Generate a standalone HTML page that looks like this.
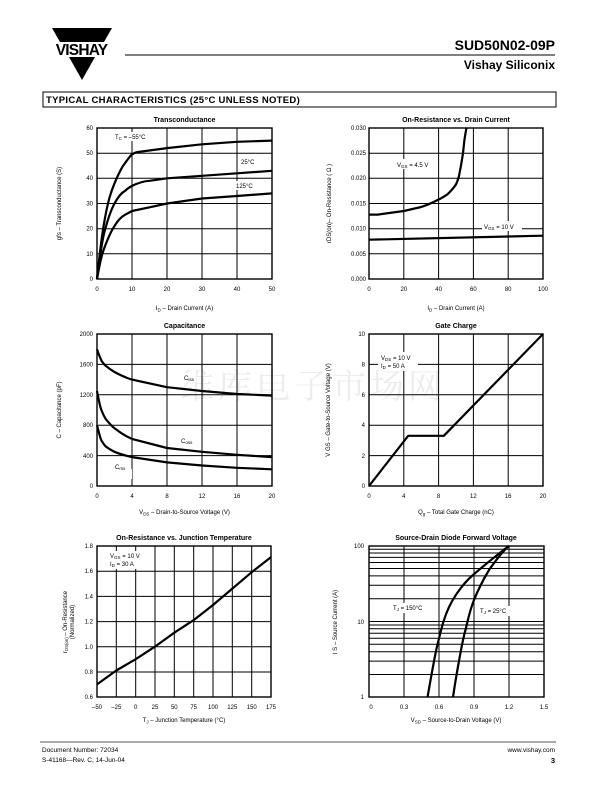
<!DOCTYPE html>
<html><head><meta charset="utf-8"><style>
html,body{margin:0;padding:0;background:#fff}
svg{display:block}
text{font-family:"Liberation Sans",Arial,sans-serif;fill:#000}
.g{stroke:#000;stroke-width:1;fill:none}
.b{stroke:#000;stroke-width:1.4;fill:none}
.c{stroke:#000;stroke-width:2.2;fill:none;stroke-linejoin:round}
.t{font-size:7px;font-weight:bold}
.s{font-size:6px}
.l{font-size:6.5px}
</style></head><body>
<svg width="612" height="792" viewBox="0 0 612 792" xmlns="http://www.w3.org/2000/svg">
<!-- header -->
<polygon points="52,28 112,28 104,42 60,42" fill="#000"/>
<text x="81.5" y="55" text-anchor="middle" style="font-size:15.5px;font-weight:bold;letter-spacing:-0.8px">VISHAY</text>
<polygon points="69,57 95,57 82,80" fill="#000"/>
<line x1="125" y1="55" x2="555" y2="55" stroke="#000" stroke-width="1"/>
<text x="555" y="50" text-anchor="end" style="font-size:14px;font-weight:bold">SUD50N02-09P</text>
<text x="555" y="69" text-anchor="end" style="font-size:12px;font-weight:bold">Vishay Siliconix</text>
<rect x="43" y="92" width="513" height="15" fill="none" stroke="#000" stroke-width="1"/>
<text x="46" y="103" style="font-size:9.5px;font-weight:bold;letter-spacing:0.3px">TYPICAL CHARACTERISTICS (25°C UNLESS NOTED)</text>

<!-- watermark -->
<text x="180" y="398" style="font-family:'Noto Serif CJK SC',serif;font-size:34px;fill:#ececec;letter-spacing:4px">维库电子市场网</text>

<!-- Chart 1 -->
<text x="184.5" y="122" text-anchor="middle" class="t">Transconductance</text>
<g class="g">
<path d="M132,128V279M167,128V279M202,128V279M237,128V279M97,153.2H272M97,178.3H272M97,203.5H272M97,228.7H272M97,253.8H272"/>
</g>
<rect x="97" y="128" width="175" height="151" class="b"/>
<g class="s" text-anchor="end">
<text x="93" y="130">60</text><text x="93" y="155">50</text><text x="93" y="180">40</text><text x="93" y="205.5">30</text><text x="93" y="230.5">20</text><text x="93" y="256">10</text><text x="93" y="281">0</text></g>
<g class="s" text-anchor="middle">
<text x="97" y="291">0</text><text x="132" y="291">10</text><text x="167" y="291">20</text><text x="202" y="291">30</text><text x="237" y="291">40</text><text x="272" y="291">50</text></g>
<text x="184.5" y="310" text-anchor="middle" class="s">I<tspan font-size="4.5" dy="1.5">D</tspan><tspan dy="-1.5">  –  Drain Current (A)</tspan></text>
<text transform="translate(61,203.5) rotate(-90)" text-anchor="middle" class="s">gfs – Transconductance (S)</text>
<path class="c" d="M97,279 C100,250 102,235 104,223.6 C108,200 111,192 114.5,183.4 C118,175 121,168 125,163.2 C128,159 130,156 132,154.4 C135,152.5 137,152 139,151.9 L167,148.1 L202,144.3 L237,141.8 L272,140.6"/>
<path class="c" d="M97,279 C100,255 102,242 104,233.7 C108,218 111,210 114.5,203.5 C118,197 121,193 125,190.9 C128,188 130,187 132,185.9 C140,182 145,181 149.5,180.8 L167,178.3 L202,175.8 L237,173.3 L272,170.8"/>
<path class="c" d="M97,279 C100,262 102,254 104,248.8 C108,238 111,231 114.5,226.1 C118,220 121,217 125,214.8 L132,211 L149.5,207.3 L167,203.5 L184.5,201 L202,198.5 L237,196 L272,193.4"/>
<rect x="113" y="132" width="45" height="9" fill="#fff"/>
<text x="115" y="139" class="s">T<tspan font-size="4.5" dy="1">C</tspan><tspan dy="-1"> = –55°C</tspan></text>
<rect x="238" y="157" width="24" height="9" fill="#fff"/>
<text x="241" y="164" class="s">25°C</text>
<rect x="234" y="181" width="27" height="9" fill="#fff"/>
<text x="236" y="188" class="s">125°C</text>

<!-- Chart 2 -->
<text x="456" y="122" text-anchor="middle" class="t">On-Resistance vs. Drain Current</text>
<g class="g">
<path d="M403.8,128V279M438.6,128V279M473.4,128V279M508.2,128V279M369,153.2H543M369,178.3H543M369,203.5H543M369,228.7H543M369,253.8H543"/>
</g>
<rect x="369" y="128" width="174" height="151" class="b"/>
<g class="s" text-anchor="end">
<text x="366" y="130">0.030</text><text x="366" y="155">0.025</text><text x="366" y="180">0.020</text><text x="366" y="205.5">0.015</text><text x="366" y="230.5">0.010</text><text x="366" y="256">0.005</text><text x="366" y="281">0.000</text></g>
<g class="s" text-anchor="middle">
<text x="369" y="291">0</text><text x="403.8" y="291">20</text><text x="438.6" y="291">40</text><text x="473.4" y="291">60</text><text x="508.2" y="291">80</text><text x="543" y="291">100</text></g>
<text x="456" y="310" text-anchor="middle" class="s">I<tspan font-size="4.5" dy="1.5">D</tspan><tspan dy="-1.5">  –  Drain Current (A)</tspan></text>
<text transform="translate(331,203.5) rotate(-90)" text-anchor="middle" class="s">rDS(on)– On-Resistance ( Ω )</text>
<path class="c" d="M369,214.6 L377.7,214.6 L403.8,211 L421.2,207 C430,204 434,202 438.6,199.5 C442,198 444,196.5 447.3,194.4 C451,191 453,189 456,184.4 C458,180 459,177 459.5,173.3 C461,166 462,160 463,153.2 C463.8,146 464.2,141 464.7,138.1 L466.4,128"/>
<path class="c" d="M369,239.7 L543,235.7"/>
<rect x="394" y="159" width="44" height="10" fill="#fff"/>
<text x="397" y="167" class="s">V<tspan font-size="4.5" dy="1">GS</tspan><tspan dy="-1"> = 4.5 V</tspan></text>
<rect x="482" y="221" width="40" height="10" fill="#fff"/>
<text x="484" y="229" class="s">V<tspan font-size="4.5" dy="1">GS</tspan><tspan dy="-1"> = 10 V</tspan></text>

<!-- Chart 3 Capacitance -->
<text x="184.5" y="328" text-anchor="middle" class="t">Capacitance</text>
<g class="g">
<path d="M132,334V486M167,334V486M202,334V486M237,334V486M97,364.4H272M97,394.8H272M97,425.2H272M97,455.6H272"/>
</g>
<rect x="97" y="334" width="175" height="152" class="b"/>
<g class="s" text-anchor="end">
<text x="93" y="336">2000</text><text x="93" y="366.5">1600</text><text x="93" y="397">1200</text><text x="93" y="427">800</text><text x="93" y="458">400</text><text x="93" y="488">0</text></g>
<g class="s" text-anchor="middle">
<text x="97" y="498">0</text><text x="132" y="498">4</text><text x="167" y="498">8</text><text x="202" y="498">12</text><text x="237" y="498">16</text><text x="272" y="498">20</text></g>
<text x="184.5" y="514" text-anchor="middle" class="s">V<tspan font-size="4.5" dy="1.5">DS</tspan><tspan dy="-1.5">  –  Drain-to-Source Voltage (V)</tspan></text>
<text transform="translate(61,410) rotate(-90)" text-anchor="middle" class="s">C  –  Capacitance (pF)</text>
<rect x="182" y="373" width="14" height="9" fill="#fff"/>
<rect x="179" y="436" width="18" height="9" fill="#fff"/>
<rect x="113" y="462" width="18" height="9" fill="#fff"/>
<rect x="130" y="469" width="2" height="10" fill="#fff"/>
<path class="c" d="M97,349.2 C99,356 101,359 101.4,360.6 C103,363 104,364.5 105.8,365.9 C109,368.5 111,370 114.5,372 C121,375.5 125,377.5 132,379.6 L167,387.2 L202,391 L237,394 L272,395.6"/>
<path class="c" d="M97,391 C99,401 100,407 101.4,410 C103,414 104,416.5 105.8,419.1 C109,423 111,425.5 114.5,428.2 C121,433 125,436 132,438.9 L167,448 L202,451.8 L237,454.8 L272,457.1"/>
<path class="c" d="M97,425.2 C99,433 100,437.5 101.4,440.4 C103,443 104,445 105.8,446.5 C109,449 111,450 114.5,451.8 C121,454.5 125,455.5 132,457.1 L167,462.4 L202,465.5 L237,467.8 L272,469.3"/>
<text x="184" y="380" class="s">C<tspan font-size="4.5" dy="1">iss</tspan></text>
<text x="181" y="443" class="s">C<tspan font-size="4.5" dy="1">oss</tspan></text>
<text x="115" y="469" class="s">C<tspan font-size="4.5" dy="1">rss</tspan></text>

<!-- Chart 4 Gate charge -->
<text x="456" y="328" text-anchor="middle" class="t">Gate Charge</text>
<g class="g">
<path d="M403.8,334V486M438.6,334V486M473.4,334V486M508.2,334V486M369,364.4H543M369,394.8H543M369,425.2H543M369,455.6H543"/>
</g>
<rect x="369" y="334" width="174" height="152" class="b"/>
<g class="s" text-anchor="end">
<text x="365" y="336">10</text><text x="365" y="366.5">8</text><text x="365" y="397">6</text><text x="365" y="427">4</text><text x="365" y="458">2</text><text x="365" y="488">0</text></g>
<g class="s" text-anchor="middle">
<text x="369" y="498">0</text><text x="403.8" y="498">4</text><text x="438.6" y="498">8</text><text x="473.4" y="498">12</text><text x="508.2" y="498">16</text><text x="543" y="498">20</text></g>
<text x="456" y="514" text-anchor="middle" class="s">Q<tspan font-size="4.5" dy="1.5">g</tspan><tspan dy="-1.5">  –  Total Gate Charge (nC)</tspan></text>
<text transform="translate(330,410) rotate(-90)" text-anchor="middle" class="s">V GS  –  Gate-to-Source Voltage (V)</text>
<rect x="378" y="352" width="40" height="19" fill="#fff"/>
<text x="381" y="360" class="s">V<tspan font-size="4.5" dy="1">DS</tspan><tspan dy="-1"> = 10 V</tspan></text>
<text x="381" y="368" class="s">I<tspan font-size="4.5" dy="1">D</tspan><tspan dy="-1"> = 50 A</tspan></text>
<path class="c" d="M369,486 L408.2,435.8 L443.8,435.8 L543,334"/>

<!-- Chart 5 -->
<text x="184" y="540" text-anchor="middle" class="t">On-Resistance vs. Junction Temperature</text>
<g class="g">
<path d="M116.3,546V697M135.7,546V697M155,546V697M174.3,546V697M193.7,546V697M213,546V697M232.3,546V697M251.7,546V697M97,571.2H271M97,596.4H271M97,621.6H271M97,646.8H271M97,672H271"/>
</g>
<rect x="97" y="546" width="174" height="151" class="b"/>
<g class="s" text-anchor="end">
<text x="93" y="548">1.8</text><text x="93" y="573">1.6</text><text x="93" y="598.5">1.4</text><text x="93" y="623.5">1.2</text><text x="93" y="649">1.0</text><text x="93" y="674">0.8</text><text x="93" y="699">0.6</text></g>
<g class="s" text-anchor="middle">
<text x="97" y="709">–50</text><text x="116.3" y="709">–25</text><text x="135.7" y="709">0</text><text x="155" y="709">25</text><text x="174.3" y="709">50</text><text x="193.7" y="709">75</text><text x="213" y="709">100</text><text x="232.3" y="709">125</text><text x="251.7" y="709">150</text><text x="271" y="709">175</text></g>
<text x="184" y="722" text-anchor="middle" class="s">T<tspan font-size="4.5" dy="1.5">J</tspan><tspan dy="-1.5">  –  Junction Temperature (°C)</tspan></text>
<text transform="translate(67,622) rotate(-90)" text-anchor="middle" class="s" font-size="5.8">r<tspan font-size="4.3" dy="1">DS(on)</tspan><tspan dy="-1"> – On-Resistance</tspan></text>
<text transform="translate(74,622) rotate(-90)" text-anchor="middle" class="s" font-size="5.8">(Normalized)</text>
<rect x="107" y="551" width="42" height="18" fill="#fff"/>
<text x="110" y="558" class="s">V<tspan font-size="4.5" dy="1">GS</tspan><tspan dy="-1"> = 10 V</tspan></text>
<text x="110" y="566" class="s">I<tspan font-size="4.5" dy="1">D</tspan><tspan dy="-1"> = 30 A</tspan></text>
<path class="c" d="M97,684.4 L116.3,670.5 L135.7,659.2 L155,646.6 L174.3,632.7 L193.7,620.1 L213,605 L232.3,588.6 L251.7,572.2 L271,557.1"/>

<!-- Chart 6 -->
<text x="456" y="540" text-anchor="middle" class="t">Source-Drain Diode Forward Voltage</text>
<g class="g">
<path d="M404,546V697M439,546V697M474,546V697M509,546V697"/>
<path d="M369,674.5H544M369,661.1H544M369,651.7H544M369,644.3H544M369,638.3H544M369,633.2H544M369,628.8H544M369,625H544M369,621.5H544M369,598.7H544M369,585.3H544M369,575.9H544M369,568.5H544M369,562.5H544M369,557.4H544M369,553H544M369,549.2H544"/>
</g>
<rect x="369" y="546" width="175" height="151" class="b"/>
<g class="s" text-anchor="end">
<text x="364" y="548">100</text><text x="364" y="624">10</text><text x="364" y="699">1</text></g>
<g class="s" text-anchor="middle">
<text x="371" y="709">0</text><text x="404" y="709">0.3</text><text x="439" y="709">0.6</text><text x="474" y="709">0.9</text><text x="509" y="709">1.2</text><text x="544" y="709">1.5</text></g>
<text x="456" y="722" text-anchor="middle" class="s">V<tspan font-size="4.5" dy="1.5">SD</tspan><tspan dy="-1.5">  –  Source-to-Drain Voltage (V)</tspan></text>
<text transform="translate(337,622) rotate(-90)" text-anchor="middle" class="s">I S  –  Source Current (A)</text>
<rect x="390" y="603" width="40" height="10" fill="#fff"/>
<text x="393" y="610" class="s">T<tspan font-size="4.5" dy="1">J</tspan><tspan dy="-1"> = 150°C</tspan></text>
<rect x="477" y="606" width="36" height="10" fill="#fff"/>
<text x="480" y="613" class="s">T<tspan font-size="4.5" dy="1">J</tspan><tspan dy="-1"> = 25°C</tspan></text>
<path class="c" d="M427.5,697.3 C430,683 433,666 436,651 C439,638 441,630 443.5,621.5 C447,610 451,602 456.5,594 C462,586 467,580 473,575 C482,567 492,559 509,545.7"/>
<path class="c" d="M453,697.3 C455,683 457,672 459,661 C461,650 463,638 466,628 C468,619 470,610 474,600 C478,590 483,580 489,570 C496,560 502,552 509,545.7"/>

<!-- footer -->
<line x1="40" y1="742" x2="556" y2="742" stroke="#555" stroke-width="1"/>
<text x="42" y="752" style="font-size:6.5px">Document Number:  72034</text>
<text x="42" y="762" style="font-size:6.5px">S-41168—Rev. C, 14-Jun-04</text>
<text x="555" y="752" text-anchor="end" style="font-size:6.5px">www.vishay.com</text>
<text x="555" y="763" text-anchor="end" style="font-size:7.5px;font-weight:bold">3</text>
</svg>
</body></html>
